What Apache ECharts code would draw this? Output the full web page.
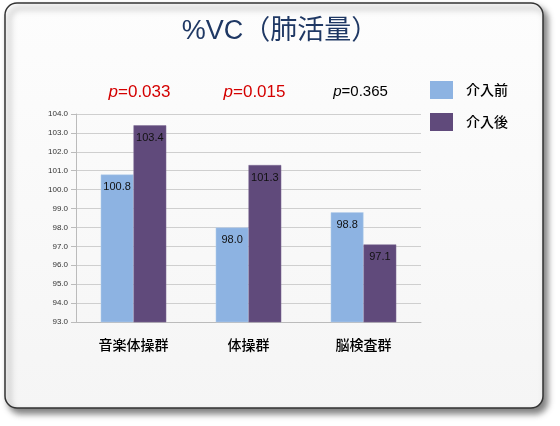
<!DOCTYPE html>
<html>
<head>
<meta charset="utf-8">
<script src="https://cdn.jsdelivr.net/npm/echarts@6/dist/echarts.min.js"></script>
<style>
  html, body { margin: 0; padding: 0; background: #fff; }
  #chart { width: 560px; height: 426px; }
</style>
</head>
<body>
<div id="chart"></div>
<script>
// 群と値
const categories = ["音楽体操群", "体操群", "脳検査群"];
const before = [100.8, 98.0, 98.8];
const after = [103.4, 101.3, 97.1];
const pValues = ["0.033", "0.015", "0.365"];
const pSignificant = [true, true, false];

const chart = echarts.init(document.getElementById("chart"));

const barLabel = {
  show: true,
  position: "insideTop",
  distance: 7,
  fontSize: 11,
  color: "#111",
  fontFamily: "'Liberation Sans', sans-serif",
  formatter: (p) => p.value.toFixed(1),
};

const options = {
  backgroundColor: "#fff",
  textStyle: { fontFamily: "'Noto Sans CJK JP', sans-serif" },
  title: {
    text: "%VC（肺活量）",
    left: "center",
    top: 13,
    textStyle: {
      fontSize: 27,
      fontWeight: "normal",
      color: "#1f3864",
      fontFamily: "'Liberation Sans', 'Noto Sans CJK JP', sans-serif",
    },
  },
  legend: {
    orient: "vertical",
    left: 430,
    top: 81,
    padding: 0,
    icon: "rect",
    itemWidth: 23,
    itemHeight: 18,
    itemGap: 14,
    itemStyle: { borderWidth: 0 },
    textStyle: { fontSize: 14, fontWeight: 500, color: "#000", padding: [0, 0, 0, 8] },
    data: ["介入前", "介入後"],
  },
  grid: { left: 76, right: 139, top: 114, bottom: 104 },
  xAxis: {
    type: "category",
    data: categories,
    axisLine: { lineStyle: { color: "#bbb" } },
    axisTick: { show: false },
    axisLabel: { fontSize: 14, fontWeight: 500, color: "#000", margin: 16 },
  },
  yAxis: {
    type: "value",
    min: 93,
    max: 104,
    interval: 1,
    axisLine: { show: true, lineStyle: { color: "#bbb" } },
    axisTick: { show: true, length: 5, lineStyle: { color: "#bbb" } },
    axisLabel: {
      fontSize: 8,
      color: "#333",
      fontFamily: "'Liberation Sans', sans-serif",
      formatter: (v) => v.toFixed(1),
    },
    splitLine: { lineStyle: { color: "#cfcfcf" } },
  },
  series: [
    {
      name: "介入前",
      type: "bar",
      data: before,
      barGap: "0%",
      barCategoryGap: "43%",
      itemStyle: { color: "#8db3e2", borderColor: "#b9d0ec", borderWidth: 0.5 },
      label: barLabel,
    },
    {
      name: "介入後",
      type: "bar",
      data: after,
      itemStyle: { color: "#604a7b", borderColor: "#7d6a94", borderWidth: 0.5 },
      label: barLabel,
    },
  ],
};

chart.setOption(options);

// 枠と p 値
const frame = {
  type: "rect",
  z: -10,
  shape: { x: 5, y: 3, width: 538, height: 405, r: 12 },
  style: {
    fill: new echarts.graphic.LinearGradient(0, 0, 0, 1, [
      { offset: 0, color: "#fdfdfd" },
      { offset: 1, color: "#f5f5f5" },
    ]),
    stroke: "#333",
    lineWidth: 1.5,
    shadowBlur: 6,
    shadowOffsetX: 4,
    shadowOffsetY: 5,
    shadowColor: "rgba(0,0,0,0.5)",
  },
};

const pTexts = categories.map((c, i) => {
  const size = pSignificant[i] ? 17 : 15;
  const color = pSignificant[i] ? "#d40000" : "#000";
  return {
    type: "text",
    x: chart.convertToPixel({ xAxisIndex: 0 }, c) + (pSignificant[i] ? 6 : -3),
    y: 92,
    style: {
      text: "{i|p}{n|=" + pValues[i] + "}",
      align: "center",
      verticalAlign: "middle",
      rich: {
        i: { fontStyle: "italic", fontSize: size, fontFamily: "'Liberation Sans', sans-serif", fill: color },
        n: { fontSize: size, fontFamily: "'Liberation Sans', sans-serif", fill: color },
      },
    },
  };
});

chart.setOption({ graphic: [frame].concat(pTexts) });
</script>
</body>
</html>
